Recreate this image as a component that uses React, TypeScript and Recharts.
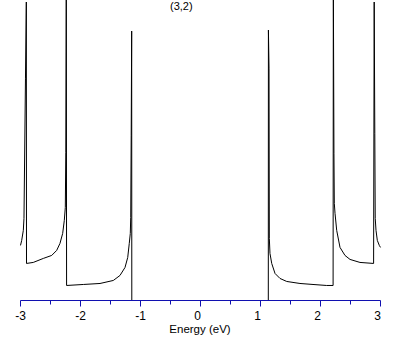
import { LineChart, Line, XAxis, YAxis } from 'recharts'

// energy (eV) and density of states (arbitrary units, 300 = top of plot)
const energy = [
  -3.0, -2.98, -2.953, -2.942, -2.917, -2.903, -2.9, -2.787, -2.62, -2.48,
  -2.397, -2.342, -2.297, -2.27, -2.253, -2.245, -2.237, -2.232, -1.953, -1.675,
  -1.453, -1.342, -1.258, -1.213, -1.187, -1.17, -1.163, -1.155, -1.147, -1.145,
  1.13, 1.132, 1.142, 1.147, 1.158, 1.187, 1.242, 1.325, 1.437, 1.658,
  1.875, 2.103, 2.21, 2.214, 2.224, 2.23, 2.242, 2.27, 2.325, 2.408,
  2.492, 2.658, 2.885, 2.895, 2.905, 2.912, 2.925, 2.947, 2.98, 3.0,
]
const dos = [
  55, 60, 70, 82, 222, 298, 37, 38, 42, 45,
  50, 57, 67, 80, 93, 148, 320, 15, 16, 17,
  20, 25, 33, 43, 57, 67, 83, 165, 269, 0,
  0, 270, 232, 62, 47, 37, 27, 22, 19, 17,
  16, 15, 15, 320, 147, 97, 87, 70, 53, 45,
  41, 38, 37, 298, 167, 82, 70, 60, 55, 53,
]
const xTicks = [-3, -2.5, -2, -1.5, -1, -0.5, 0, 0.5, 1, 1.5, 2, 2.5, 3]
const title = '(3,2)'
const xLabel = 'Energy (eV)'

const data = energy.map((e, i) => ({ e, d: dos[i] }))

const AXIS_BLUE = '#1010b0'
const FONT = '"Liberation Sans", Arial, sans-serif'

function Tick(props: any) {
  const { x, y, payload } = props
  const v = payload.value as number
  const major = Number.isInteger(v)
  return (
    <g>
      <line x1={x} y1={y} x2={x} y2={y + (major ? 6 : 4)} stroke={AXIS_BLUE} />
      {major && (
        <text
          x={x + (v >= 0 ? -3 : 0)}
          y={y + 19}
          textAnchor="middle"
          fontSize={12}
          fontFamily={FONT}
          fill="#000"
        >
          {v}
        </text>
      )}
    </g>
  )
}

export default function App() {
  return (
    <div style={{ position: 'absolute', left: 0, top: 0, width: 409, height: 345, background: '#fff' }}>
      <LineChart width={409} height={345} data={data} margin={{ top: 0, right: 28.5, bottom: 0, left: 20.5 }}>
        <YAxis hide type="number" domain={[0, 300]} allowDataOverflow />
        <XAxis
          dataKey="e"
          type="number"
          domain={[-3, 3]}
          ticks={xTicks}
          interval={0}
          height={44.5}
          tickSize={0}
          tickMargin={0}
          tickLine={false}
          axisLine={{ stroke: AXIS_BLUE }}
          tick={<Tick />}
        />
        <Line
          type="linear"
          dataKey="d"
          stroke="#000"
          strokeWidth={1}
          dot={false}
          isAnimationActive={false}
        />
      </LineChart>
      <div style={{ position: 'absolute', left: 170, top: 0, fontFamily: FONT, fontSize: 11 }}>{title}</div>
      <div
        style={{
          position: 'absolute',
          left: 0,
          width: 400,
          top: 323,
          textAlign: 'center',
          fontFamily: FONT,
          fontSize: 11.5,
        }}
      >
        {xLabel}
      </div>
    </div>
  )
}
